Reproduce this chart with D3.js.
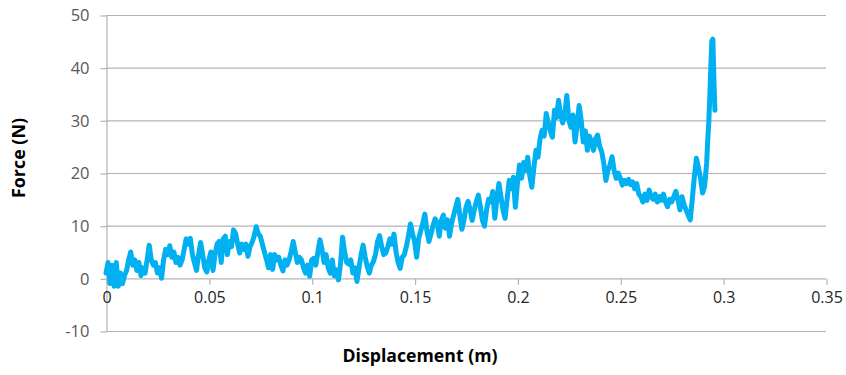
<!DOCTYPE html>
<html>
<head>
<meta charset="utf-8">
<script src="https://cdn.jsdelivr.net/npm/d3@7"></script>
<style>
  body { margin: 0; background: #fff; }
  svg { display: block; }
</style>
</head>
<body>
<svg id="chart" width="846" height="375"></svg>
<script>
const xTicks = [0, 0.05, 0.1, 0.15, 0.2, 0.25, 0.3, 0.35];
const yTicks = [-10, 0, 10, 20, 30, 40, 50];

// displacement (m)
const displacement = [
  0.000, 0.001, 0.002, 0.003, 0.004, 0.005, 0.006, 0.007, 0.008, 0.009,
  0.010, 0.011, 0.012, 0.013, 0.014, 0.015, 0.016, 0.017, 0.018, 0.019,
  0.020, 0.021, 0.022, 0.023, 0.024, 0.025, 0.026, 0.027, 0.028, 0.029,
  0.030, 0.031, 0.032, 0.033, 0.034, 0.035, 0.036, 0.037, 0.038, 0.039,
  0.040, 0.041, 0.042, 0.043, 0.044, 0.045, 0.046, 0.047, 0.048, 0.049,
  0.050, 0.051, 0.052, 0.053, 0.054, 0.055, 0.056, 0.057, 0.058, 0.059,
  0.060, 0.061, 0.062, 0.063, 0.064, 0.065, 0.066, 0.067, 0.068, 0.069,
  0.070, 0.071, 0.072, 0.073, 0.074, 0.075, 0.076, 0.077, 0.078, 0.079,
  0.080, 0.081, 0.082, 0.083, 0.084, 0.085, 0.086, 0.087, 0.088, 0.089,
  0.090, 0.091, 0.092, 0.093, 0.094, 0.095, 0.096, 0.097, 0.098, 0.099,
  0.100, 0.101, 0.102, 0.103, 0.104, 0.105, 0.106, 0.107, 0.108, 0.109,
  0.110, 0.111, 0.112, 0.113, 0.114, 0.115, 0.116, 0.117, 0.118, 0.119,
  0.120, 0.121, 0.122, 0.123, 0.124, 0.125, 0.126, 0.127, 0.128, 0.129,
  0.130, 0.131, 0.132, 0.133, 0.134, 0.135, 0.136, 0.137, 0.138, 0.139,
  0.140, 0.141, 0.142, 0.143, 0.144, 0.145, 0.146, 0.147, 0.148, 0.149,
  0.150, 0.151, 0.152, 0.153, 0.154, 0.155, 0.156, 0.157, 0.158, 0.159,
  0.160, 0.161, 0.162, 0.163, 0.164, 0.165, 0.166, 0.167, 0.168, 0.169,
  0.170, 0.171, 0.172, 0.173, 0.174, 0.175, 0.176, 0.177, 0.178, 0.179,
  0.180, 0.181, 0.182, 0.183, 0.184, 0.185, 0.186, 0.187, 0.188, 0.189,
  0.190, 0.191, 0.192, 0.193, 0.194, 0.195, 0.196, 0.197, 0.198, 0.199,
  0.200, 0.201, 0.202, 0.203, 0.204, 0.205, 0.206, 0.207, 0.208, 0.209,
  0.210, 0.211, 0.212, 0.213, 0.214, 0.215, 0.216, 0.217, 0.218, 0.219,
  0.220, 0.221, 0.222, 0.223, 0.224, 0.225, 0.226, 0.227, 0.228, 0.229,
  0.230, 0.231, 0.232, 0.233, 0.234, 0.235, 0.236, 0.237, 0.238, 0.239,
  0.240, 0.241, 0.242, 0.243, 0.244, 0.245, 0.246, 0.247, 0.248, 0.249,
  0.250, 0.251, 0.252, 0.253, 0.254, 0.255, 0.256, 0.257, 0.258, 0.259,
  0.260, 0.261, 0.262, 0.263, 0.264, 0.265, 0.266, 0.267, 0.268, 0.269,
  0.270, 0.271, 0.272, 0.273, 0.274, 0.275, 0.276, 0.277, 0.278, 0.279,
  0.280, 0.281, 0.282, 0.283, 0.284, 0.285, 0.286, 0.287, 0.288, 0.289,
  0.290, 0.291, 0.292, 0.2925, 0.293, 0.2935, 0.294, 0.2945, 0.295, 0.2955,
  0.296
];

// force (N), same order as displacement
const force = [
  1.0, 3.0, -1.0, 2.5, -1.5, 3.0, -1.5, 1.0, -1.0, 0.5,
  1.5, 3.5, 5.0, 2.5, 3.5, 1.5, 3.0, 0.5, 2.0, 1.0,
  3.5, 6.3, 3.5, 2.5, 3.0, 1.0, 2.0, 0.0, 3.5, 5.5,
  4.5, 6.2, 4.0, 5.0, 3.0, 4.0, 2.5, 3.5, 5.5, 7.5,
  6.5, 7.6, 4.5, 3.0, 1.5, 4.5, 6.8, 4.5, 2.0, 1.2,
  3.5, 5.0, 1.5, 4.5, 6.5, 7.0, 3.0, 7.5, 8.0, 4.5,
  7.0, 6.0, 9.2, 8.5, 6.5, 4.8, 6.5, 5.5, 6.5, 4.2,
  6.0, 6.8, 8.0, 9.8, 8.5, 8.0, 6.5, 5.0, 3.6, 2.0,
  4.5, 1.7, 4.5, 3.5, 4.0, 2.5, 1.4, 3.5, 2.5, 3.5,
  5.0, 7.0, 5.0, 3.0, 4.0, 3.5, 2.0, 1.0, 2.5, 0.4,
  3.5, 3.8, 2.5, 5.0, 7.3, 5.5, 3.0, 4.5, 2.0, 1.0,
  3.5, 0.5, 1.6, -0.3, 2.8, 7.8, 5.0, 3.0, 2.7, 3.5,
  1.0, 2.0, -0.6, 2.0, 4.5, 6.3, 4.0, 2.2, 1.0, 2.5,
  3.2, 4.5, 7.0, 8.1, 6.0, 4.5, 4.8, 6.0, 7.5, 6.5,
  8.4, 5.0, 3.0, 1.9, 4.0, 4.5, 6.0, 8.0, 10.3, 8.5,
  7.0, 4.0, 7.5, 9.0, 10.5, 12.2, 9.0, 7.0, 8.5, 10.0,
  11.3, 10.5, 8.0, 11.0, 12.0, 9.5, 11.1, 8.0, 10.5, 12.0,
  13.5, 15.0, 12.0, 9.3, 11.0, 13.5, 14.6, 13.0, 11.0, 13.0,
  14.5, 15.8, 13.5, 11.0, 9.9, 13.0, 15.0, 14.5, 16.5, 11.4,
  15.0, 18.0, 15.5, 13.0, 11.4, 15.0, 18.6, 17.0, 19.2, 13.5,
  18.0, 21.5, 19.0, 22.0, 20.5, 23.0, 19.5, 17.3, 21.0, 24.3,
  23.0, 26.5, 28.1, 27.0, 31.3, 29.5, 28.0, 26.8, 31.9, 30.5,
  33.8, 31.0, 29.5, 31.0, 34.7, 30.0, 28.7, 31.0, 25.9, 29.0,
  32.8, 30.0, 25.9, 28.0, 24.3, 27.0, 26.0, 24.3, 26.5, 27.2,
  25.0, 24.0, 21.8, 18.6, 20.5, 21.5, 23.1, 20.5, 19.0, 20.0,
  19.0, 17.7, 18.6, 18.0, 18.8, 17.8, 18.3, 17.0, 18.0, 16.0,
  15.5, 14.5, 16.0, 14.8, 16.75, 15.5, 15.0, 16.0, 14.5, 15.5,
  14.8, 16.0, 14.5, 13.6, 15.0, 14.5, 15.5, 16.5, 15.0, 13.0,
  15.5, 14.0, 13.0, 12.0, 11.1, 15.0, 19.3, 22.8, 21.0, 19.0,
  16.2, 17.5, 22.0, 26.2, 29.4, 34.4, 40.0, 45.1, 45.4, 38.0,
  31.9
];

const svg = d3.select("#chart");
const x = d3.scaleLinear().domain([0, 0.35]).range([106, 826]);
const y = d3.scaleLinear().domain([-10, 50]).range([331, 15]);

// horizontal gridlines
svg.append("g")
  .selectAll("line")
  .data(yTicks)
  .join("line")
  .attr("x1", x(0))
  .attr("x2", x(0.35))
  .attr("y1", d => y(d) + 0.5)
  .attr("y2", d => y(d) + 0.5)
  .attr("stroke", "#b3b3b3")
  .attr("stroke-width", 1.2);

// y axis
const yAxis = svg.append("g")
  .attr("transform", `translate(${x(0) + 0.5},0.5)`)
  .call(d3.axisLeft(y).tickValues(yTicks).tickSize(6).tickSizeOuter(0)
    .tickFormat(d => String(d)));
yAxis.select(".domain").attr("stroke", "#b3b3b3").attr("stroke-width", 1.2);
yAxis.selectAll(".tick line").attr("stroke", "#b3b3b3").attr("stroke-width", 1.2);
yAxis.selectAll(".tick text")
  .attr("x", -17)
  .attr("fill", "#595959")
  .style("font-family", "'Open Sans', sans-serif")
  .style("font-size", "16.5px");

// x axis along zero line
const xAxis = svg.append("g")
  .attr("transform", `translate(0.5,${y(0) + 0.5})`)
  .call(d3.axisBottom(x).tickValues(xTicks).tickSize(6).tickSizeOuter(0)
    .tickFormat(d => String(+d.toFixed(2))));
xAxis.select(".domain").remove();
xAxis.selectAll(".tick line").attr("stroke", "#b3b3b3").attr("stroke-width", 1.2);
xAxis.selectAll(".tick text")
  .attr("y", 13)
  .attr("fill", "#262626")
  .style("font-family", "'Liberation Sans Narrow', 'Open Sans', sans-serif")
  .style("font-size", "16px");

// force-displacement curve
const pts = displacement.map((d, i) => [d, force[i]]);
svg.append("path")
  .datum(pts)
  .attr("fill", "none")
  .attr("stroke", "#00b0f0")
  .attr("stroke-width", 5)
  .attr("stroke-linejoin", "round")
  .attr("stroke-linecap", "round")
  .attr("d", d3.line().x(d => x(d[0])).y(d => y(d[1])));

// axis titles
svg.append("text")
  .attr("x", 420)
  .attr("y", 362)
  .attr("text-anchor", "middle")
  .style("font-family", "'Open Sans', sans-serif")
  .style("font-weight", "bold")
  .style("font-size", "17px")
  .attr("textLength", 155)
  .attr("lengthAdjust", "spacingAndGlyphs")
  .text("Displacement (m)");

svg.append("text")
  .attr("transform", "translate(25,158) rotate(-90)")
  .attr("text-anchor", "middle")
  .style("font-family", "'Open Sans', sans-serif")
  .style("font-weight", "bold")
  .style("font-size", "17px")
  .attr("textLength", 80)
  .attr("lengthAdjust", "spacingAndGlyphs")
  .text("Force (N)");
</script>
</body>
</html>
